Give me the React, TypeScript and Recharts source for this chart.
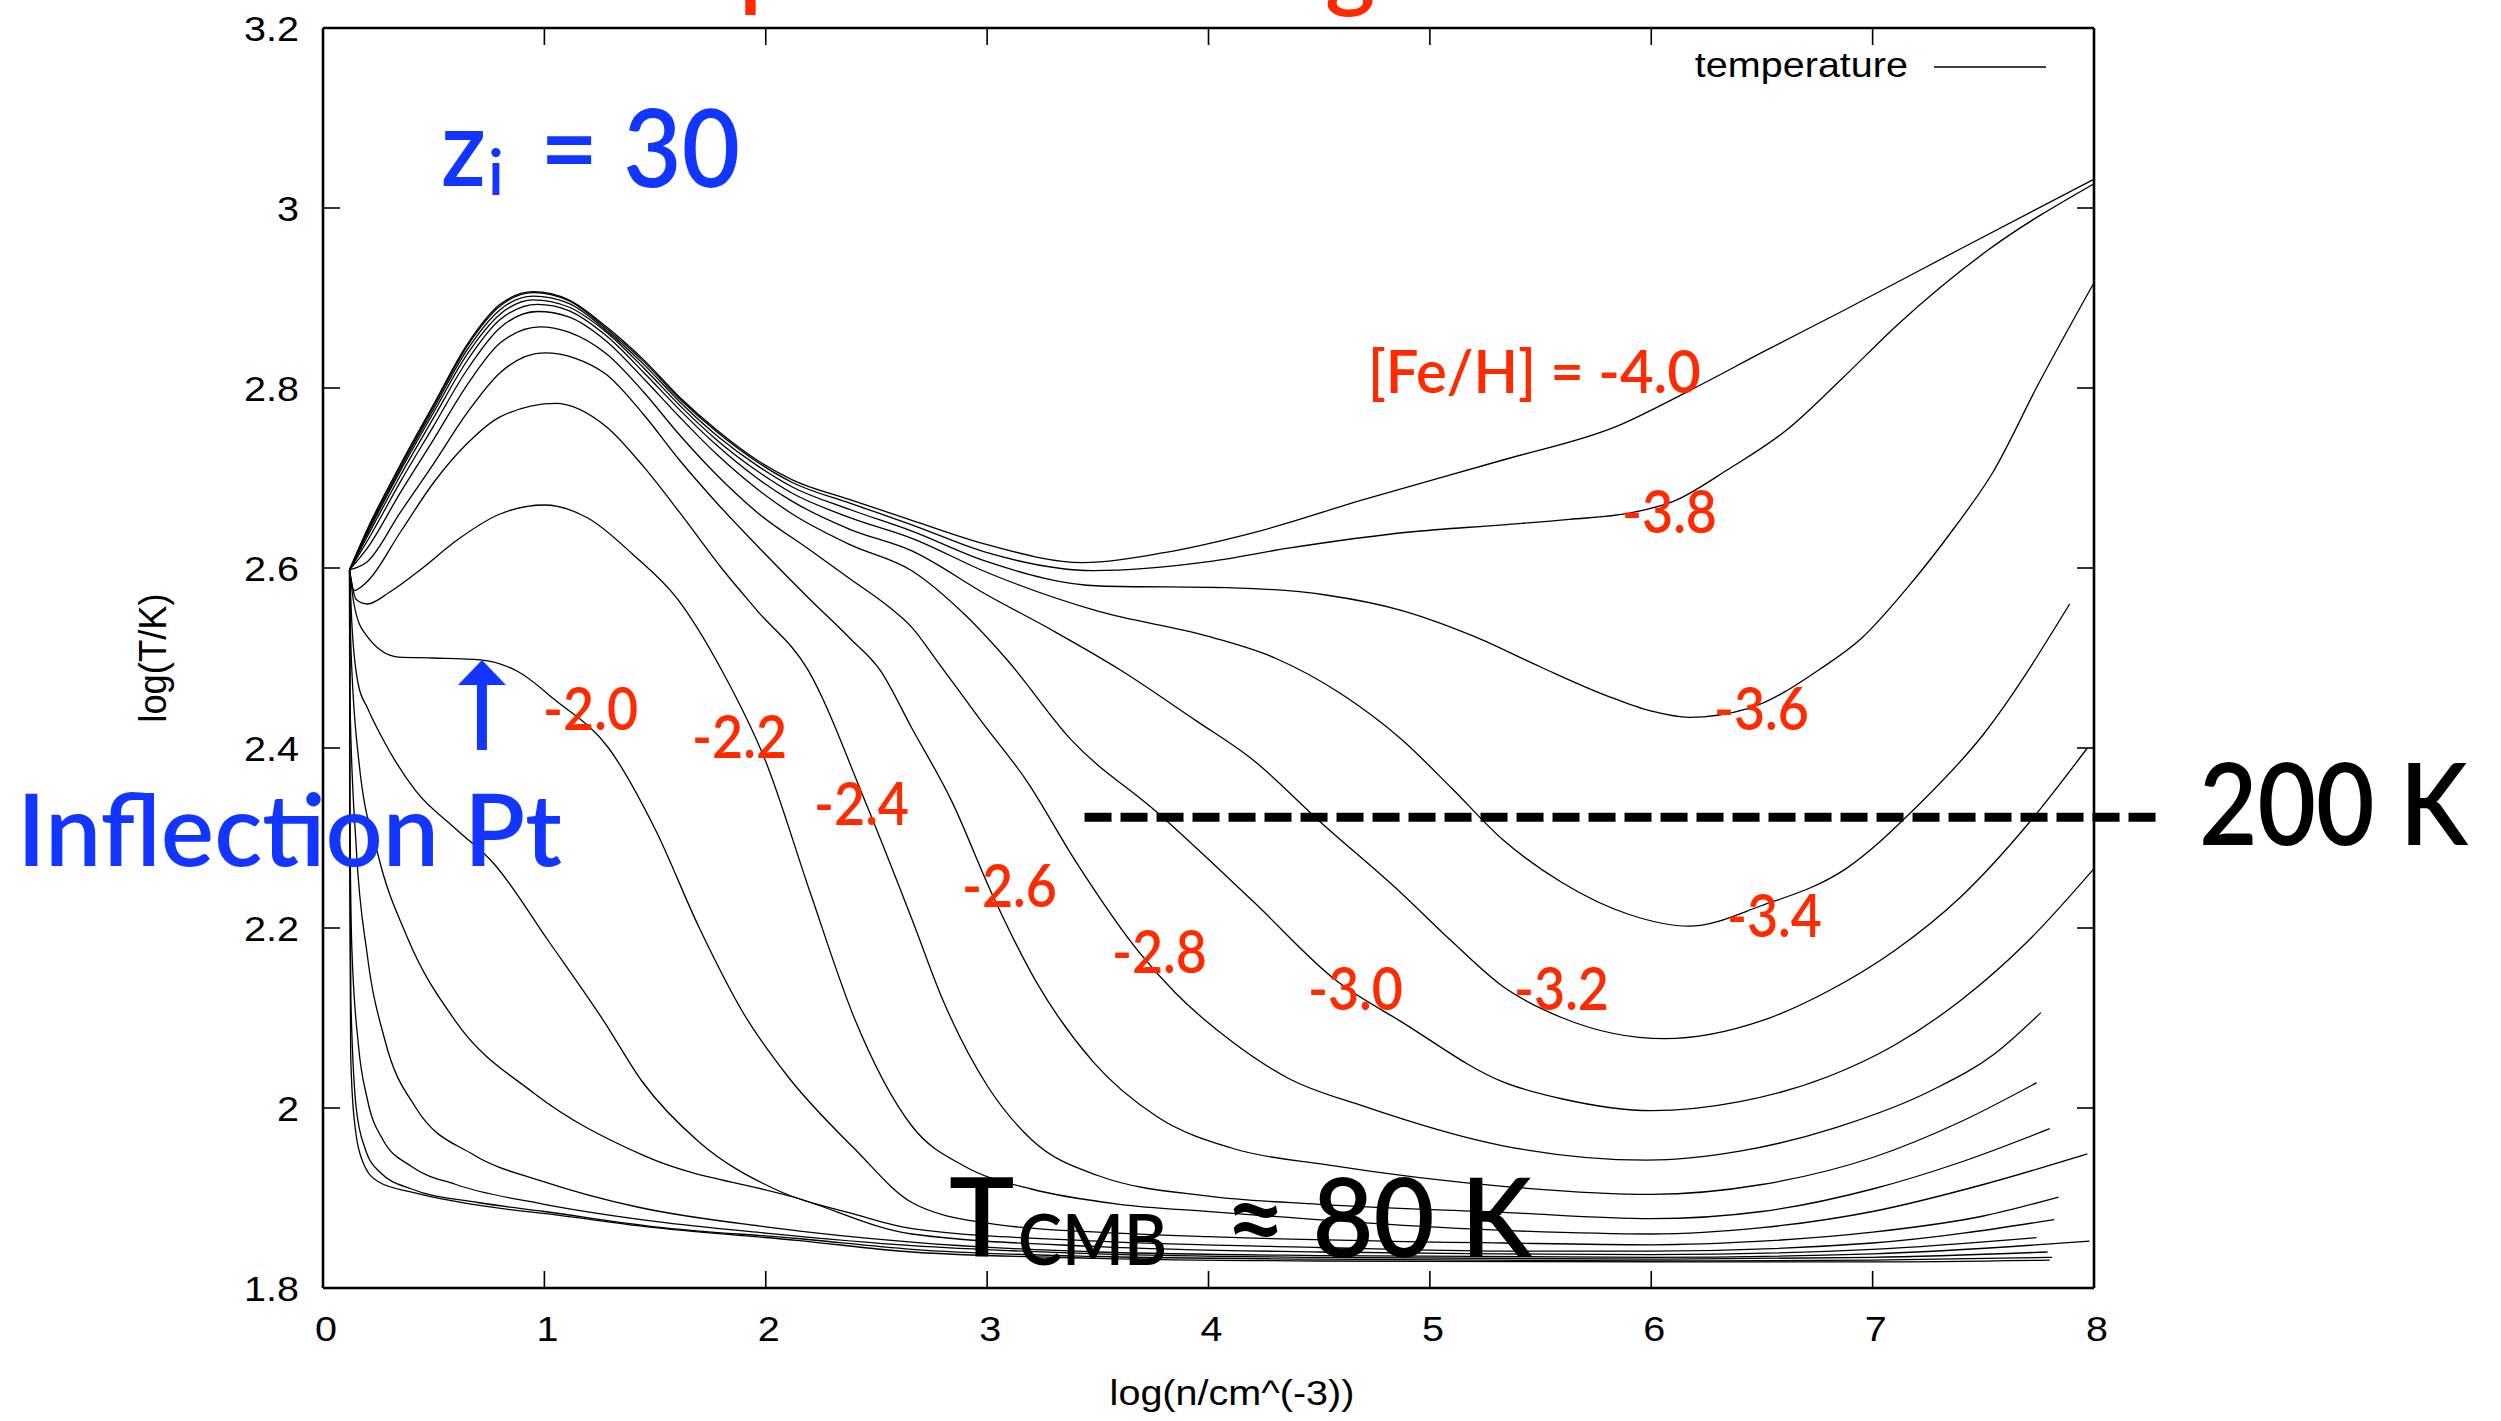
import React from 'react';
import { LineChart, Line, XAxis, YAxis, ReferenceLine, ReferenceDot, Legend } from 'recharts';

type Pt = [number, number];

// ---- temperature tracks, log n (x) vs log T (y), one per metallicity ----
const FEH_M40: Pt[] = [[0.12,2.598],[0.2,2.643],[0.35,2.715],[0.5,2.782],[0.65,2.848],[0.8,2.893],[0.95,2.907],[1.11,2.898],[1.28,2.868],[1.45,2.831],[1.61,2.79],[1.78,2.753],[1.96,2.72],[2.12,2.698],[2.38,2.676],[2.66,2.653],[3.0,2.626],[3.43,2.606],[3.8,2.617],[4.2,2.639],[4.7,2.676],[5.33,2.72],[5.84,2.757],[6.18,2.798],[6.52,2.842],[6.86,2.885],[7.4,2.955],[8.0,3.032]];
const FEH_M38: Pt[] = [[0.12,2.598],[0.2,2.642],[0.35,2.714],[0.5,2.78],[0.65,2.846],[0.8,2.891],[0.95,2.906],[1.11,2.897],[1.28,2.866],[1.45,2.829],[1.61,2.788],[1.78,2.751],[1.96,2.718],[2.12,2.695],[2.38,2.672],[2.66,2.648],[3.0,2.617],[3.48,2.597],[4.0,2.607],[4.36,2.622],[4.91,2.64],[5.33,2.648],[5.63,2.654],[5.9,2.661],[6.1,2.674],[6.35,2.71],[6.61,2.753],[6.86,2.81],[7.12,2.872],[7.52,2.953],[8.0,3.027]];
const FEH_M36: Pt[] = [[0.12,2.598],[0.2,2.64],[0.35,2.711],[0.5,2.777],[0.65,2.842],[0.8,2.887],[0.95,2.902],[1.11,2.894],[1.28,2.864],[1.45,2.826],[1.61,2.785],[1.78,2.747],[1.96,2.714],[2.12,2.69],[2.38,2.665],[2.66,2.641],[3.0,2.607],[3.51,2.58],[4.11,2.578],[4.53,2.57],[4.87,2.553],[5.2,2.524],[5.5,2.49],[5.8,2.458],[6.0,2.441],[6.17,2.434],[6.44,2.444],[6.77,2.489],[6.95,2.522],[7.16,2.579],[7.37,2.645],[7.54,2.705],[7.75,2.805],[8.0,2.917]];
const FEH_M34: Pt[] = [[0.12,2.598],[0.2,2.638],[0.35,2.708],[0.5,2.773],[0.65,2.837],[0.8,2.882],[0.95,2.898],[1.11,2.89],[1.28,2.862],[1.45,2.822],[1.61,2.781],[1.78,2.742],[1.96,2.708],[2.12,2.683],[2.38,2.656],[2.66,2.633],[3.0,2.595],[3.5,2.552],[4.0,2.524],[4.3,2.5],[4.6,2.46],[4.87,2.41],[5.1,2.355],[5.33,2.298],[5.6,2.25],[5.9,2.215],[6.17,2.202],[6.5,2.225],[6.88,2.266],[7.2,2.335],[7.5,2.415],[7.89,2.56]];
const FEH_M32: Pt[] = [[0.12,2.598],[0.2,2.635],[0.35,2.703],[0.5,2.767],[0.65,2.83],[0.8,2.876],[0.97,2.893],[1.11,2.886],[1.28,2.858],[1.45,2.817],[1.61,2.776],[1.78,2.736],[1.96,2.7],[2.12,2.674],[2.38,2.643],[2.66,2.619],[3.0,2.57],[3.3,2.53],[3.6,2.487],[3.94,2.431],[4.2,2.387],[4.5,2.319],[4.87,2.239],[5.1,2.185],[5.33,2.135],[5.6,2.1],[6.06,2.077],[6.5,2.097],[6.8,2.13],[7.1,2.175],[7.4,2.235],[7.7,2.315],[7.97,2.4]];
const FEH_M30: Pt[] = [[0.12,2.598],[0.2,2.63],[0.35,2.696],[0.5,2.758],[0.65,2.82],[0.8,2.867],[0.97,2.885],[1.11,2.879],[1.28,2.852],[1.45,2.81],[1.61,2.768],[1.78,2.726],[1.96,2.688],[2.12,2.66],[2.38,2.626],[2.66,2.597],[2.9,2.548],[3.09,2.498],[3.38,2.409],[3.77,2.328],[4.2,2.23],[4.58,2.141],[4.87,2.096],[5.33,2.029],[5.6,2.01],[6.0,1.997],[6.4,2.007],[6.8,2.035],[7.1,2.07],[7.4,2.12],[7.7,2.185],[8.0,2.266]];
const FEH_M28: Pt[] = [[0.12,2.598],[0.2,2.622],[0.35,2.684],[0.5,2.743],[0.65,2.803],[0.8,2.85],[0.98,2.868],[1.11,2.862],[1.28,2.838],[1.45,2.795],[1.61,2.748],[1.78,2.703],[1.96,2.662],[2.2,2.62],[2.38,2.588],[2.55,2.558],[2.66,2.534],[2.77,2.498],[2.97,2.431],[3.18,2.363],[3.4,2.274],[3.69,2.172],[3.85,2.128],[4.11,2.073],[4.36,2.033],[4.7,2.002],[5.33,1.958],[5.98,1.942],[6.4,1.952],[6.83,1.978],[7.27,2.02],[7.55,2.06],[7.76,2.106]];
const FEH_M26: Pt[] = [[0.12,2.598],[0.2,2.607],[0.35,2.662],[0.5,2.716],[0.65,2.772],[0.8,2.817],[1.0,2.839],[1.14,2.833],[1.28,2.815],[1.45,2.77],[1.61,2.72],[1.78,2.672],[1.96,2.625],[2.2,2.565],[2.38,2.522],[2.515,2.487],[2.66,2.422],[2.84,2.341],[3.02,2.239],[3.22,2.141],[3.48,2.051],[3.77,1.99],[4.11,1.955],[4.53,1.937],[5.33,1.913],[6.0,1.904],[6.5,1.915],[7.0,1.945],[7.4,1.985],[7.74,2.028]];
const FEH_M24: Pt[] = [[0.12,2.598],[0.14,2.575],[0.2,2.585],[0.35,2.64],[0.5,2.695],[0.65,2.738],[0.8,2.768],[1.05,2.783],[1.28,2.757],[1.45,2.712],[1.61,2.662],[1.8,2.6],[1.96,2.553],[2.19,2.487],[2.447,2.342],[2.66,2.21],[2.8,2.12],[3.0,2.025],[3.2,1.965],[3.5,1.925],[4.0,1.902],[4.5,1.893],[5.33,1.884],[6.0,1.877],[6.5,1.885],[7.0,1.91],[7.4,1.94],[7.8,1.977]];
const FEH_M22: Pt[] = [[0.12,2.598],[0.15,2.565],[0.2,2.56],[0.3,2.573],[0.45,2.6],[0.6,2.63],[0.8,2.66],[1.0,2.67],[1.2,2.655],[1.4,2.615],[1.6,2.566],[1.8,2.487],[2.0,2.385],[2.2,2.24],[2.4,2.1],[2.66,1.98],[2.9,1.935],[3.2,1.91],[3.6,1.893],[4.0,1.885],[5.33,1.864],[6.0,1.86],[6.5,1.867],[7.0,1.885],[7.5,1.915],[7.97,1.949]];
const FEH_M20: Pt[] = [[0.12,2.598],[0.14,2.56],[0.19,2.527],[0.34,2.501],[0.5,2.5],[0.71,2.498],[0.88,2.485],[1.05,2.453],[1.29,2.4],[1.5,2.31],[1.7,2.2],[1.9,2.105],[2.1,2.035],[2.4,1.955],[2.66,1.895],[3.0,1.872],[3.5,1.862],[4.0,1.857],[5.33,1.85],[6.0,1.848],[6.5,1.852],[7.0,1.862],[7.5,1.88],[7.84,1.901]];
const FEH_M18: Pt[] = [[0.12,2.598],[0.13,2.54],[0.16,2.47],[0.2,2.445],[0.27,2.41],[0.42,2.352],[0.6,2.31],[0.77,2.272],[1.02,2.185],[1.27,2.096],[1.44,2.03],[1.7,1.962],[2.04,1.91],[2.4,1.882],[2.66,1.866],[3.5,1.852],[4.5,1.845],[5.33,1.841],[6.0,1.841],[7.0,1.85],[7.82,1.876]];
const FEH_M16: Pt[] = [[0.12,2.598],[0.125,2.52],[0.16,2.39],[0.25,2.28],[0.38,2.19],[0.6,2.096],[0.95,2.017],[1.45,1.947],[2.14,1.9],[2.66,1.86],[3.5,1.846],[4.5,1.84],[5.33,1.838],[6.0,1.837],[7.0,1.843],[7.74,1.856]];
const FEH_M14: Pt[] = [[0.12,2.598],[0.122,2.45],[0.15,2.29],[0.2,2.17],[0.28,2.075],[0.42,2.0],[0.68,1.948],[1.0,1.918],[1.42,1.89],[2.0,1.868],[2.66,1.851],[3.5,1.84],[4.5,1.836],[6.0,1.834],[7.0,1.838],[7.98,1.852]];
const FEH_M12: Pt[] = [[0.12,2.598],[0.121,2.35],[0.13,2.18],[0.16,2.07],[0.2,2.01],[0.27,1.965],[0.4,1.935],[0.6,1.915],[1.0,1.893],[1.5,1.874],[2.0,1.861],[2.66,1.847],[3.5,1.838],[4.5,1.834],[6.0,1.832],[7.0,1.834],[7.79,1.84]];
const FEH_M10: Pt[] = [[0.12,2.598],[0.121,2.3],[0.126,2.12],[0.15,2.0],[0.19,1.955],[0.26,1.928],[0.4,1.91],[0.7,1.895],[1.0,1.885],[1.5,1.868],[2.14,1.855],[2.66,1.843],[3.5,1.835],[4.5,1.832],[6.0,1.83],[7.0,1.831],[7.81,1.834]];
const FEH_M08: Pt[] = [[0.12,2.598],[0.121,2.25],[0.125,2.06],[0.14,1.99],[0.18,1.94],[0.25,1.918],[0.41,1.906],[0.7,1.892],[1.06,1.881],[1.5,1.867],[2.14,1.853],[2.66,1.84],[3.5,1.833],[4.5,1.83],[6.0,1.829],[7.0,1.829],[7.8,1.831]];

const SERIES: { id: string; pts: Pt[] }[] = [
  { id: 'm40', pts: FEH_M40 }, { id: 'm38', pts: FEH_M38 }, { id: 'm36', pts: FEH_M36 },
  { id: 'm34', pts: FEH_M34 }, { id: 'm32', pts: FEH_M32 }, { id: 'm30', pts: FEH_M30 },
  { id: 'm28', pts: FEH_M28 }, { id: 'm26', pts: FEH_M26 }, { id: 'm24', pts: FEH_M24 },
  { id: 'm22', pts: FEH_M22 }, { id: 'm20', pts: FEH_M20 }, { id: 'm18', pts: FEH_M18 },
  { id: 'm16', pts: FEH_M16 }, { id: 'm14', pts: FEH_M14 }, { id: 'm12', pts: FEH_M12 },
  { id: 'm10', pts: FEH_M10 }, { id: 'm08', pts: FEH_M08 },
];

// ---- axes ----
const X_DOMAIN: [number, number] = [0, 8];
const Y_DOMAIN: [number, number] = [1.8, 3.2];
const X_TICKS = [0, 1, 2, 3, 4, 5, 6, 7, 8];
const Y_TICKS = [1.8, 2, 2.2, 2.4, 2.6, 2.8, 3, 3.2];
const X_TITLE = 'log(n/cm^(-3))';
const Y_TITLE = 'log(T/K)';
const LEGEND_TEXT = 'temperature';

// ---- annotations (data coordinates of each label's left baseline) ----
const FEH_LABELS = [
  { text: '-2.0', x: 0.994, y: 2.42 },
  { text: '-2.2', x: 1.667, y: 2.389 },
  { text: '-2.4', x: 2.218, y: 2.314 },
  { text: '-2.6', x: 2.886, y: 2.223 },
  { text: '-2.8', x: 3.564, y: 2.15 },
  { text: '-3.0', x: 4.449, y: 2.109 },
  { text: '-3.2', x: 5.38, y: 2.109 },
  { text: '-3.4', x: 6.342, y: 2.19 },
  { text: '-3.6', x: 6.283, y: 2.42 },
  { text: '-3.8', x: 5.868, y: 2.639 },
];
const FEH_TOP_LABEL = { text: '[Fe/H] = -4.0', x: 4.72, y: 2.7944 };
const LINE_200K = { x0: 3.44, x1: 8.29, y: 2.323, text: '200 K', tx: 8.474, ty: 2.2922 };
const ZI_LABEL = { x: 0.533, y: 3.0244 };
const INFLECTION = { x: 0.718, y: 2.4978, text: 'Inflection Pt' };
const TCMB_LABEL = { x: 2.828, y: 1.8344 };
const TITLE_FRAGMENTS = [
  { text: 'p', x: 1.879, y: 3.2322 },
  { text: 'g', x: 4.526, y: 3.2322 },
];

const W = 2501;
const H = 1421;
const PLOT_W = 1771;
const PLOT_H = 1260;
const GP_FONT = '"Liberation Sans", Arial, Helvetica, sans-serif';
const KN_FONT = 'Lato, "Open Sans", "Noto Sans", sans-serif';
const KN_WEIGHT = 600;
const RED = '#FF2A00';
const BLUE = '#1236FF';
const GP_SIZE = 35;
const GP_STRETCH = 1.13;
const TICK_LEN = 17;
const FRAME_W = 2.6;

function fmt(v: number) {
  return String(v);
}

// bottom tick: inward tick, mirrored inward tick on the top border, label below
function BottomTick(props: any) {
  const { x, y, payload } = props;
  return (
    <g>
      <line x1={x} x2={x} y1={y} y2={y - TICK_LEN} stroke="#000" strokeWidth={1.6} />
      <line x1={x} x2={x} y1={y - PLOT_H} y2={y - PLOT_H + TICK_LEN} stroke="#000" strokeWidth={1.6} />
      <text transform={`translate(${x + 3},${y + 53}) scale(${GP_STRETCH},1)`} textAnchor="middle"
        fontFamily={GP_FONT} fontSize={GP_SIZE} fill="#000">{fmt(payload.value)}</text>
    </g>
  );
}
// left tick: inward tick, mirrored inward tick on the right border, label left
function LeftTick(props: any) {
  const { x, y, payload } = props;
  return (
    <g>
      <line x1={x} x2={x + TICK_LEN} y1={y} y2={y} stroke="#000" strokeWidth={1.6} />
      <line x1={x + PLOT_W} x2={x + PLOT_W - TICK_LEN} y1={y} y2={y} stroke="#000" strokeWidth={1.6} />
      <text transform={`translate(${x - 24},${y + 12.5}) scale(${GP_STRETCH},1)`} textAnchor="end"
        fontFamily={GP_FONT} fontSize={GP_SIZE} fill="#000">{fmt(payload.value)}</text>
    </g>
  );
}

function XTitle(props: any) {
  const vb = props.viewBox || { x: 323, y: 1288, width: 1771 };
  return (
    <text transform={`translate(${vb.x + 909},${vb.y + 117}) scale(${GP_STRETCH},1)`} textAnchor="middle"
      fontFamily={GP_FONT} fontSize={GP_SIZE} fill="#000">{X_TITLE}</text>
  );
}
function YTitle(props: any) {
  const vb = props.viewBox || { x: 243, y: 28, width: 80, height: 1260 };
  const cx = vb.x + vb.width - 171;
  const cy = vb.y + vb.height / 2;
  return (
    <text transform={`translate(${cx},${cy}) rotate(-90) scale(1.04,${GP_STRETCH})`} textAnchor="middle"
      dominantBaseline="central" fontFamily={GP_FONT} fontSize={GP_SIZE} fill="#000">{Y_TITLE}</text>
  );
}

function LegendBox() {
  return (
    <svg width={380} height={56} style={{ display: 'block', overflow: 'visible' }}>
      <text transform={`translate(228,37) scale(${GP_STRETCH},1)`} textAnchor="end" fontFamily={GP_FONT}
        fontSize={GP_SIZE} fill="#000">{LEGEND_TEXT}</text>
      <line x1={254} x2={366} y1={27} y2={27} stroke="#000" strokeWidth={1.3} />
    </svg>
  );
}

export default function App() {
  return (
    <div style={{ position: 'absolute', left: 0, top: 0, width: W, height: H, background: '#fff' }}>
      <LineChart width={W} height={H} margin={{ top: 28, right: 407, bottom: 73, left: 243 }}>
        <XAxis xAxisId="b" type="number" dataKey="x" domain={X_DOMAIN} ticks={X_TICKS} interval={0}
          allowDataOverflow height={60} tickSize={0} tickMargin={0} tickLine={false}
          axisLine={{ stroke: '#000', strokeWidth: FRAME_W }} tick={<BottomTick />} label={<XTitle />} />
        <YAxis yAxisId="l" type="number" domain={Y_DOMAIN} ticks={Y_TICKS} interval={0} allowDataOverflow
          width={80} tickSize={0} tickMargin={0} tickLine={false}
          axisLine={{ stroke: '#000', strokeWidth: FRAME_W }} tick={<LeftTick />} label={<YTitle />} />

        {/* top and right borders of the gnuplot frame */}
        <ReferenceLine xAxisId="b" yAxisId="l" y={Y_DOMAIN[1]} stroke="#000" strokeWidth={FRAME_W} ifOverflow="visible" />
        <ReferenceLine xAxisId="b" yAxisId="l" x={X_DOMAIN[1]} stroke="#000" strokeWidth={FRAME_W} ifOverflow="visible" />

        {SERIES.map((s) => (
          <Line key={s.id} xAxisId="b" yAxisId="l" data={s.pts.map(([x, y]) => ({ x, y }))} dataKey="y"
            type="monotone" dot={false} activeDot={false} stroke="#000" strokeWidth={1.3}
            isAnimationActive={false} legendType="none" />
        ))}

        <ReferenceLine xAxisId="b" yAxisId="l" ifOverflow="visible"
          segment={[{ x: LINE_200K.x0, y: LINE_200K.y }, { x: LINE_200K.x1, y: LINE_200K.y }]}
          stroke="#000" strokeWidth={9} strokeDasharray="27 9" />

        {FEH_LABELS.map((l) => (
          <ReferenceDot key={l.text} xAxisId="b" yAxisId="l" x={l.x} y={l.y} ifOverflow="visible"
            shape={(p: any) => (
              <text x={p.cx} y={p.cy} fill={RED} fontFamily={KN_FONT} fontWeight={KN_WEIGHT} fontSize={59}
                textLength={95} lengthAdjust="spacingAndGlyphs">{l.text}</text>
            )} />
        ))}
        <ReferenceDot xAxisId="b" yAxisId="l" x={FEH_TOP_LABEL.x} y={FEH_TOP_LABEL.y} ifOverflow="visible"
          shape={(p: any) => (
            <text x={p.cx} y={p.cy} fill={RED} fontFamily={KN_FONT} fontWeight={KN_WEIGHT} fontSize={60}
              textLength={333} lengthAdjust="spacingAndGlyphs">{FEH_TOP_LABEL.text}</text>
          )} />

        <ReferenceDot xAxisId="b" yAxisId="l" x={ZI_LABEL.x} y={ZI_LABEL.y} ifOverflow="visible"
          shape={(p: any) => (
            <g fill={BLUE} fontFamily={KN_FONT} fontWeight={KN_WEIGHT}>
              <text x={p.cx} y={p.cy} fontSize={108} textLength={45} lengthAdjust="spacingAndGlyphs">z</text>
              <text x={p.cx + 47} y={p.cy + 9} fontSize={64}>i</text>
              <text x={p.cx + 99} y={p.cy + 1} fontSize={108} textLength={200} lengthAdjust="spacingAndGlyphs">= 30</text>
            </g>
          )} />

        <ReferenceDot xAxisId="b" yAxisId="l" x={INFLECTION.x} y={INFLECTION.y} ifOverflow="visible"
          shape={(p: any) => (
            <g fill={BLUE}>
              <polygon points={`${p.cx - 24},${p.cy + 25} ${p.cx + 24},${p.cy + 25} ${p.cx},${p.cy}`} />
              <rect x={p.cx - 5} y={p.cy + 22} width={10} height={68} />
              <text x={p.cx - 465} y={p.cy + 206} fontFamily={KN_FONT} fontWeight={KN_WEIGHT} fontSize={100}
                textLength={545} lengthAdjust="spacingAndGlyphs">{INFLECTION.text}</text>
            </g>
          )} />

        <ReferenceDot xAxisId="b" yAxisId="l" x={LINE_200K.tx} y={LINE_200K.ty} ifOverflow="visible"
          shape={(p: any) => (
            <text x={p.cx} y={p.cy} fill="#000" fontFamily={KN_FONT} fontWeight={KN_WEIGHT} fontSize={113}
              textLength={269} lengthAdjust="spacingAndGlyphs">{LINE_200K.text}</text>
          )} />

        <ReferenceDot xAxisId="b" yAxisId="l" x={TCMB_LABEL.x} y={TCMB_LABEL.y} ifOverflow="visible"
          shape={(p: any) => (
            <g fill="#000" fontFamily={KN_FONT} fontWeight={KN_WEIGHT}>
              <text x={p.cx} y={p.cy} fontSize={110}>T</text>
              <text x={p.cx + 69} y={p.cy + 8} fontSize={71} textLength={149} lengthAdjust="spacingAndGlyphs">CMB</text>
              <text x={p.cx + 276} y={p.cy} fontSize={110} textLength={307} lengthAdjust="spacingAndGlyphs">≈ 80 K</text>
            </g>
          )} />

        {TITLE_FRAGMENTS.map((f) => (
          <ReferenceDot key={f.text} xAxisId="b" yAxisId="l" x={f.x} y={f.y} ifOverflow="visible"
            shape={(p: any) => (
              <text x={p.cx} y={p.cy} fill={RED} fontFamily={KN_FONT} fontWeight={KN_WEIGHT} fontSize={96}>{f.text}</text>
            )} />
        ))}

        <Legend layout="horizontal" verticalAlign="middle" align="center"
          wrapperStyle={{ position: 'absolute', left: 1680, top: 40, width: 380, height: 56 }}
          content={() => <LegendBox />} />
      </LineChart>
    </div>
  );
}
